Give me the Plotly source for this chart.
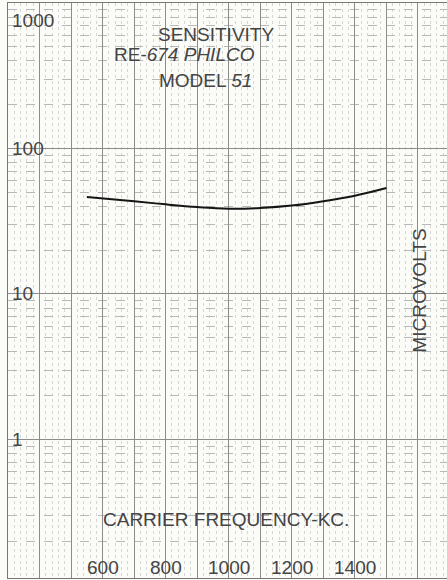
import math
import plotly.graph_objects as go

# ---- data ----
freq_kc = [550, 700, 800, 900, 1000, 1100, 1200, 1300, 1400, 1500]
microvolts = [46.4, 43.4, 41.3, 39.6, 38.6, 39.0, 40.5, 43.4, 47.4, 53.5]

x_grid_vals = [300, 400, 500, 600, 700, 800, 900, 1000, 1100, 1200, 1300, 1400, 1500, 1600]
x_tick_vals = [600, 800, 1000, 1200, 1400]
x_tick_labels = ["600", "800", "1000", "1200", "1400"]
y_tick_vals = [1, 10, 100, 1000]
y_tick_labels = ["1", "10", "100", "1000"]

INK = "#444444"
FONT = "Liberation Sans"

fig = go.Figure()
fig.add_trace(go.Scatter(
    x=freq_kc, y=microvolts, mode="lines",
    line=dict(color="#151515", width=2, shape="spline", smoothing=1.0),
    hoverinfo="skip", showlegend=False,
))

ann = []
for v, t in zip(y_tick_vals, y_tick_labels):
    top = (v == max(y_tick_vals))
    ann.append(dict(
        x=0.005, xref="paper", y=math.log10(v), yref="y",
        text=t, showarrow=False, xanchor="left",
        yanchor="top" if top else "middle", yshift=-5 if top else 0,
        font=dict(family=FONT, size=19, color=INK),
    ))
for v, t in zip(x_tick_vals, x_tick_labels):
    ann.append(dict(
        x=v, xref="x", y=0.0175, yref="paper", text=t, showarrow=False,
        xanchor="center", yanchor="middle",
        font=dict(family=FONT, size=19, color=INK),
    ))

ann += [
    dict(x=0.474, y=0.967, xref="paper", yref="paper", text="SENSITIVITY",
         showarrow=False, font=dict(family=FONT, size=19, color=INK)),
    dict(x=0.401, y=0.932, xref="paper", yref="paper",
         text="RE-<i>674 PHILCO</i>",
         showarrow=False, font=dict(family=FONT, size=19, color=INK)),
    dict(x=0.449, y=0.887, xref="paper", yref="paper",
         text="MODEL <i>51</i>",
         showarrow=False, font=dict(family=FONT, size=19, color=INK)),
    dict(x=0.497, y=0.080, xref="paper", yref="paper",
         text="CARRIER FREQUENCY-KC.",
         showarrow=False, font=dict(family=FONT, size=19, color=INK)),
    dict(x=0.966, y=0.499, xref="paper", yref="paper", text="MICROVOLTS",
         textangle=-90, showarrow=False,
         font=dict(family=FONT, size=19, color=INK)),
]

fig.update_layout(
    width=447, height=580,
    margin=dict(l=8, r=0, t=3, b=2),
    paper_bgcolor="#fbfbf8", plot_bgcolor="#fbfbf8",
    annotations=ann,
    xaxis=dict(
        range=[300, 1692], tickmode="array", tickvals=x_grid_vals,
        ticktext=["" for _ in x_grid_vals], ticks="",
        showgrid=True, gridcolor="#8c8c8c", gridwidth=1,
        minor=dict(dtick=20, tick0=300, showgrid=True, gridcolor="#d6d6d6",
                   griddash="dot", gridwidth=1),
        showline=True, linecolor="#777", linewidth=1, mirror=True,
        zeroline=False, fixedrange=True,
    ),
    yaxis=dict(
        type="log", range=[-0.952, 3.0], tickmode="array",
        tickvals=y_tick_vals, ticktext=["" for _ in y_tick_vals], ticks="",
        showgrid=True, gridcolor="#8c8c8c", gridwidth=1,
        minor=dict(dtick="D1", showgrid=True, gridcolor="#b8b8b8",
                   griddash="dash", gridwidth=1),
        showline=True, linecolor="#777", linewidth=1, mirror=True,
        zeroline=False, fixedrange=True,
    ),
)

fig.write_html("out.html")
